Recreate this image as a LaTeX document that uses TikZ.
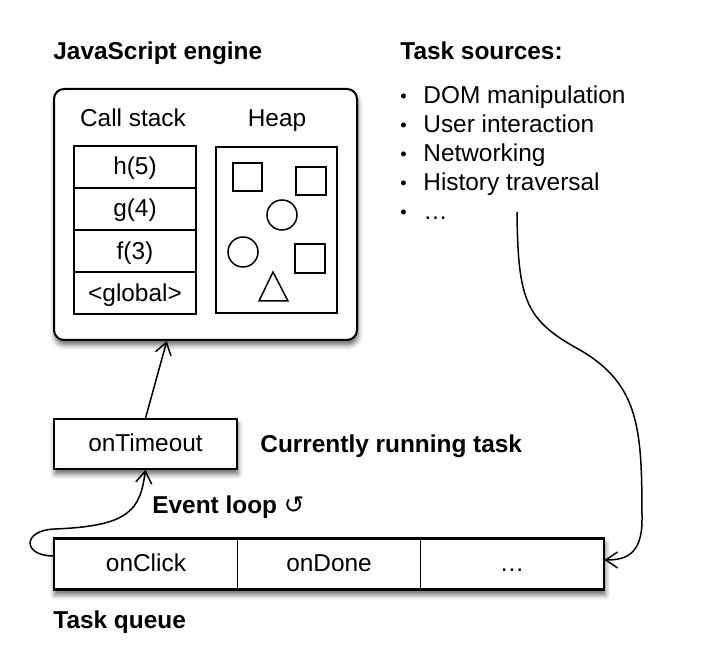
\documentclass[tikz,border=0pt]{standalone}
\usepackage{fontspec}
\setmainfont{Liberation Sans}
\newfontfamily\symfont{DejaVu Sans}
\usetikzlibrary{matrix,arrows.meta,shadows.blur}

\tikzset{
    lbl/.style={font=\fontsize{12.2}{14.5}\selectfont},
    head/.style={font=\fontsize{12.2}{14.5}\selectfont\bfseries, anchor=base west, inner sep=0pt},
    cell/.style={draw, line width=0.7pt, lbl, inner sep=0pt, text height=10pt, text depth=2pt},
    shadowbox/.style={draw, fill=white, line width=0.8pt,
        blur shadow={shadow xshift=0.5pt, shadow yshift=-2.5pt, shadow blur radius=2.5pt, shadow opacity=60}},
    arr/.style={-{Straight Barb[length=6pt,width=8pt]}, line width=0.75pt},
}

\begin{document}
\begin{tikzpicture}[x=0.5pt, y=-0.5pt]
    \useasboundingbox (0,0) rectangle (708,656);

    % labels
    \node[head] (enginelbl) at (53,60) {JavaScript engine};
    \node[head] (sourceslbl) at (400,60) {Task sources:};
    \node[head] (runninglbl) at (260,453) {Currently running task};
    \node[head] (looplbl) at (152,514) {Event loop {\mdseries\symfont ↺}};
    \node[head] (queuelbl) at (53,629) {Task queue};

    % engine
    \node[shadowbox, rounded corners=5pt, line width=1pt, minimum width=151.5pt, minimum height=125.5pt] (engine) at (205.5,214.5) {};
    \node[lbl, anchor=base] (stacklbl) at (133,127) {Call stack};
    \node[lbl, anchor=base] (heaplbl) at (277,127) {Heap};
    \matrix (stack) [matrix of nodes, row sep=-\pgflinewidth,
        nodes={cell, minimum width=61pt, minimum height=20.75pt}] at (135,230)
        {
            h(5) \\
            g(4) \\
            f(3) \\
            <global> \\
        };
    \node[cell, minimum width=60.5pt, minimum height=83pt] (heap) at (276.5,230) {};
    \draw[line width=0.75pt] (233,163) rectangle (262,191);
    \draw[line width=0.75pt] (296,167) rectangle (326,195);
    \draw[line width=0.75pt] (295,244) rectangle (325,273);
    \draw[line width=0.75pt] (282,215) circle (15);
    \draw[line width=0.75pt] (243,252) circle (15);
    \draw[line width=0.75pt] (273,272) -- (288,301) -- (259,301) -- cycle;

    % sources
    \matrix (sources) [matrix of nodes, anchor=north west, inner sep=0pt,
        nodes={lbl, anchor=base west, inner sep=0pt, text height=10.5pt, text depth=4pt},
        column 1/.style={nodes={text width=11.5pt}}] at (400,82)
        {
            \raisebox{0.6pt}{\scalebox{0.75}{\textbullet}} & DOM manipulation \\
            \raisebox{0.6pt}{\scalebox{0.75}{\textbullet}} & User interaction \\
            \raisebox{0.6pt}{\scalebox{0.75}{\textbullet}} & Networking \\
            \raisebox{0.6pt}{\scalebox{0.75}{\textbullet}} & History traversal \\
            \raisebox{0.6pt}{\scalebox{0.75}{\textbullet}} & … \\
        };
    \coordinate (srcout) at (517,212);

    % running task
    \node[shadowbox, cell, line width=0.8pt, minimum width=91.5pt, minimum height=25pt] (ontimeout) at (145.5,444) {onTimeout};

    % queue
    \matrix (queue) [matrix of nodes, shadowbox, inner sep=0pt, column sep=-\pgflinewidth,
        nodes={cell, line width=0.8pt, minimum width=91.5pt, minimum height=25pt}] at (329,564)
        {
            onClick & onDone & … \\
        };

    % arrows
    \draw[arr] (ontimeout.north) -- (engine.-107);
    \draw[arr] ([yshift=4pt]queue-1-1.west) .. controls (22,556) and (22,530) .. (55,529)
        .. controls (130,526) and (140,510) .. (ontimeout.south);
    \draw[arr] (srcout) .. controls (518,300) and (525,320) .. (580,350)
        .. controls (640,385) and (642,430) .. (642,520)
        .. controls (642,555) and (625,560) .. ([yshift=2pt]queue-1-3.east);
\end{tikzpicture}
\end{document}
